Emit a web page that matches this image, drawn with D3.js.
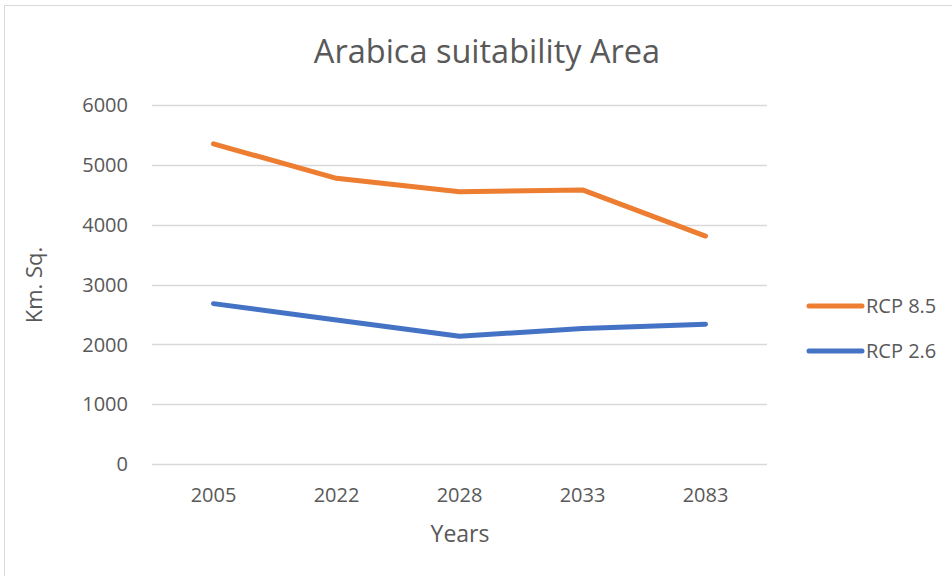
<!DOCTYPE html>
<html>
<head>
<meta charset="utf-8">
<script src="https://cdn.jsdelivr.net/npm/d3@7"></script>
<style>
  body { margin: 0; background: #fff; }
  svg { display: block; font-family: "Open Sans", sans-serif; }
</style>
</head>
<body>
<svg id="chart" width="952" height="576"></svg>
<script>
var years = ["2005", "2022", "2028", "2033", "2083"];
var rcp85 = [5350, 4775, 4550, 4580, 3810];
var rcp26 = [2680, 2405, 2135, 2265, 2335];
var yTicks = [0, 1000, 2000, 3000, 4000, 5000, 6000];
var seriesNames = ["RCP 8.5", "RCP 2.6"];
var seriesColors = ["#ED7D31", "#4472C4"];

var svg = d3.select("#chart");
var margin = {top: 105, left: 152, right: 185, bottom: 112};
var width = 952 - margin.left - margin.right,
    height = 576 - margin.top - margin.bottom;

// outer chart border
svg.append("rect")
    .attr("x", 4.5).attr("y", 5.5)
    .attr("width", 960).attr("height", 600)
    .attr("fill", "none")
    .attr("stroke", "#d9d9d9");

var x = d3.scaleBand().domain(years).range([0, width]);
var y = d3.scaleLinear().domain([0, 6000]).range([height, 0]);

var g = svg.append("g")
    .attr("transform", "translate(" + margin.left + "," + margin.top + ")");

// grid
g.selectAll("line.grid")
    .data(yTicks)
    .enter().append("line")
    .attr("class", "grid")
    .attr("x1", 0).attr("x2", width)
    .attr("y1", function(d) { return Math.round(y(d)) + 0.5; })
    .attr("y2", function(d) { return Math.round(y(d)) + 0.5; })
    .attr("stroke", "#d9d9d9")
    .attr("stroke-width", 1.3);

// y labels
g.selectAll("text.ytick")
    .data(yTicks)
    .enter().append("text")
    .attr("x", -24)
    .attr("y", function(d) { return y(d); })
    .attr("dy", "0.36em")
    .attr("text-anchor", "end")
    .attr("fill", "#595959")
    .style("font-size", "20px")
    .text(function(d) { return d; });

// x labels
g.selectAll("text.xtick")
    .data(years)
    .enter().append("text")
    .attr("x", function(d) { return x(d) + x.bandwidth() / 2; })
    .attr("y", height + 38)
    .attr("text-anchor", "middle")
    .attr("fill", "#595959")
    .style("font-size", "20px")
    .text(function(d) { return d; });

var line = d3.line()
    .x(function(d, i) { return x(years[i]) + x.bandwidth() / 2; })
    .y(function(d) { return y(d); });

[rcp85, rcp26].forEach(function(s, i) {
  g.append("path")
      .datum(s)
      .attr("d", line)
      .attr("fill", "none")
      .attr("stroke", seriesColors[i])
      .attr("stroke-width", 5)
      .attr("stroke-linecap", "round")
      .attr("stroke-linejoin", "round");
});

// title
svg.append("text")
    .attr("x", 487).attr("y", 63)
    .attr("text-anchor", "middle")
    .attr("fill", "#595959")
    .style("font-size", "32.5px")
    .text("Arabica suitability Area");

// axis titles
svg.append("text")
    .attr("x", 460).attr("y", 542)
    .attr("text-anchor", "middle")
    .attr("fill", "#595959")
    .style("font-size", "23px")
    .text("Years");

svg.append("text")
    .attr("transform", "translate(42,285) rotate(-90)")
    .attr("text-anchor", "middle")
    .attr("fill", "#595959")
    .style("font-size", "22px")
    .text("Km. Sq.");

// legend
var legend = svg.append("g")
    .attr("transform", "translate(809,306)");
seriesNames.forEach(function(name, i) {
  var row = legend.append("g").attr("transform", "translate(0," + (i * 45) + ")");
  row.append("line")
      .attr("x1", 0).attr("x2", 53)
      .attr("stroke", seriesColors[i])
      .attr("stroke-width", 5)
      .attr("stroke-linecap", "round");
  row.append("text")
      .attr("x", 57).attr("dy", "0.36em")
      .attr("fill", "#595959")
      .style("font-size", "20px")
      .text(name);
});
</script>
</body>
</html>
